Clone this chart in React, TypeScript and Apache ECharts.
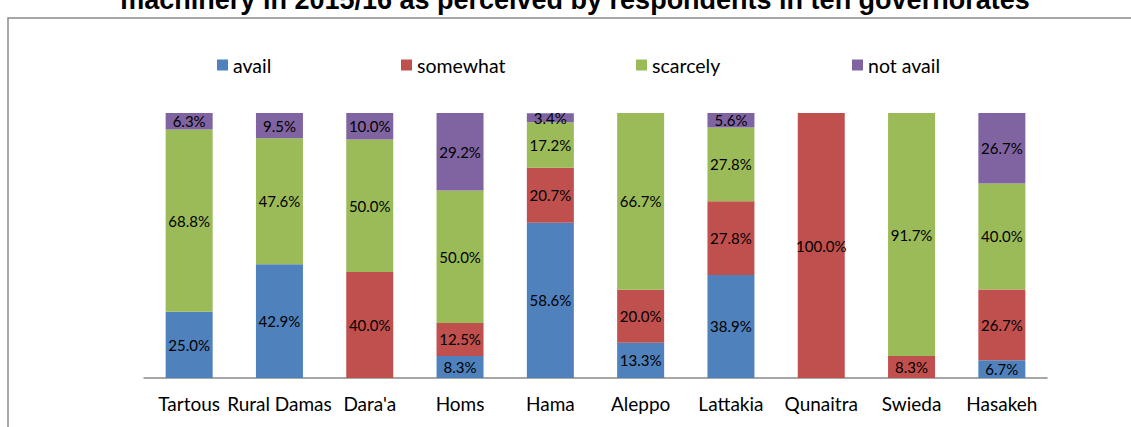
import React, { useEffect, useRef } from "react";
import * as echarts from "echarts";

const titleText = "machinery in 2015/16 as perceived by respondents in ten governorates";
const categories = ["Tartous", "Rural Damas", "Dara'a", "Homs", "Hama", "Aleppo", "Lattakia", "Qunaitra", "Swieda", "Hasakeh"];
const seriesNames = ["avail", "somewhat", "scarcely", "not avail"];
const availData = [25.0, 42.9, 0, 8.3, 58.6, 13.3, 38.9, 0, 0, 6.7];
const somewhatData = [0, 0, 40.0, 12.5, 20.7, 20.0, 27.8, 100.0, 8.3, 26.7];
const scarcelyData = [68.8, 47.6, 50.0, 50.0, 17.2, 66.7, 27.8, 0, 91.7, 40.0];
const notAvailData = [6.3, 9.5, 10.0, 29.2, 3.4, 0, 5.6, 0, 0, 26.7];
const colors = ["#4F81BD", "#C0504D", "#9BBB59", "#8064A2"];
const legendLefts = [217, 401, 636, 852];

const FONT = "Lato";

export default function App() {
  const ref = useRef<HTMLDivElement>(null);
  useEffect(() => {
    if (!ref.current) return;
    const chart = echarts.init(ref.current, null, { renderer: "svg" });
    const allData = [availData, somewhatData, scarcelyData, notAvailData];
    chart.setOption({
      animation: false,
      backgroundColor: "#ffffff",
      textStyle: { fontFamily: FONT },
      graphic: [
        {
          type: "rect",
          shape: { x: 8, y: 18, width: 1200, height: 600 },
          style: { fill: "none", stroke: "#8a8a8a", lineWidth: 1.5 },
          silent: true,
        },
        {
          type: "text",
          x: 575,
          y: 13,
          style: {
            text: titleText,
            fontFamily: "Liberation Sans",
            fontWeight: "bold",
            fontSize: 27,
            fill: "#000",
            align: "center",
            verticalAlign: "bottom",
          },
        },
      ],
      legend: seriesNames.map((n, i) => ({
        data: [n],
        left: legendLefts[i],
        top: 55,
        padding: 0,
        itemWidth: 11,
        itemHeight: 11,
        icon: "rect",
        itemGap: 5,
        textStyle: { fontFamily: FONT, fontSize: 19.5, color: "#000" },
        selectedMode: false,
      })),
      grid: { left: 144, right: 84, top: 113, bottom: 49 },
      xAxis: {
        type: "category",
        data: categories,
        axisTick: { show: false },
        axisLine: { lineStyle: { color: "#8a8a8a", width: 1.5 } },
        axisLabel: { fontFamily: FONT, fontSize: 19, color: "#000", margin: 16, interval: 0 },
      },
      yAxis: { type: "value", min: 0, max: 100, show: false, splitLine: { show: false } },
      series: seriesNames.map((n, i) => ({
        name: n,
        type: "bar",
        stack: "total",
        barWidth: 47,
        data: allData[i],
        itemStyle: { color: colors[i] },
        label: {
          show: true,
          position: "inside",
          fontFamily: FONT,
          fontSize: 15,
          color: "#000",
          formatter: (p: any) => (p.value ? Number(p.value).toFixed(1) + "%" : ""),
        },
      })),
    });
    return () => chart.dispose();
  }, []);
  return <div ref={ref} style={{ position: "fixed", left: 0, top: 0, width: 1131, height: 427 }} />;
}
